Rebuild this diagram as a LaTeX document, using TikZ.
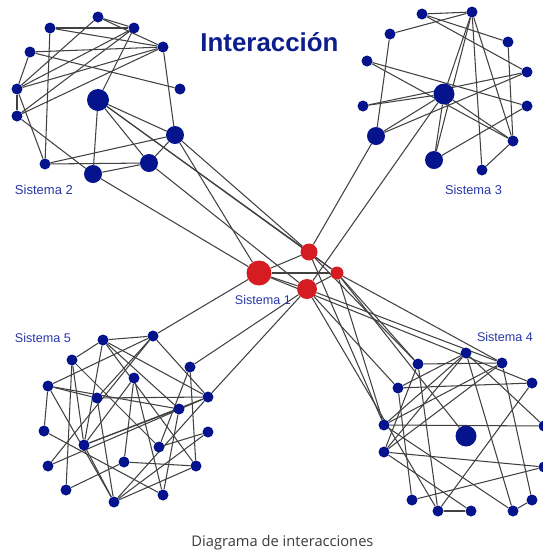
\documentclass[tikz,border=0pt]{standalone}
\usepackage{graphicx}
\usepackage{fontspec}
\setmainfont{Liberation Sans}
\newfontfamily\captionfont{Open Sans}
\usetikzlibrary{backgrounds}

\definecolor{navy}{RGB}{5,20,140}
\definecolor{labelblue}{RGB}{40,55,170}
\definecolor{titleblue}{RGB}{12,30,140}
\definecolor{hubred}{RGB}{213,28,35}
\definecolor{wire}{RGB}{65,65,65}
\definecolor{captiongray}{RGB}{60,60,60}

\tikzset{
  bn/.style={circle, fill=navy, inner sep=0pt, minimum size=#1},
  bn/.default=11pt,
  rn/.style={circle, fill=hubred, inner sep=0pt, minimum size=#1},
  link/.style={draw=wire, line width=1.05pt},
  syslabel/.style={text=labelblue, inner sep=0pt},
}

\begin{document}
\begin{tikzpicture}[x=1pt, y=-1pt]
\useasboundingbox (0,0) rectangle (543,550);
\clip (0,0) rectangle (543,550);

% Sistema 2
\node[bn] (a1) at (98,17) {};
\node[bn] (a2) at (50,28) {};
\node[bn] (a3) at (134,28) {};
\node[bn] (a4) at (163,47) {};
\node[bn] (a5) at (30,52) {};
\node[bn] (a6) at (17,89) {};
\node[bn] (a7) at (180,89) {};
\node[bn=22pt] (a8) at (98,100) {};
\node[bn] (a9) at (17,116) {};
\node[bn=18pt] (a10) at (175,135) {};
\node[bn] (a11) at (45,164) {};
\node[bn=18pt] (a12) at (149,163) {};
\node[bn=18pt] (a13) at (93,174) {};

% Sistema 3
\node[bn] (b1) at (422,14) {};
\node[bn] (b2) at (472,12) {};
\node[bn] (b3) at (390,34) {};
\node[bn] (b4) at (508,42) {};
\node[bn] (b5) at (367,61) {};
\node[bn] (b6) at (527,72) {};
\node[bn=21pt] (b7) at (444,94) {};
\node[bn] (b8) at (363,106) {};
\node[bn] (b9) at (527,106) {};
\node[bn=18pt] (b10) at (376,136) {};
\node[bn] (b11) at (513,141) {};
\node[bn=18pt] (b12) at (434,160) {};
\node[bn] (b13) at (482,170) {};

% Sistema 5
\node[bn] (c1) at (103,340) {};
\node[bn] (c2) at (153,336) {};
\node[bn] (c3) at (72,360) {};
\node[bn] (c4) at (190,367) {};
\node[bn] (c5) at (48,386) {};
\node[bn] (c6) at (134,378) {};
\node[bn] (c7) at (97,398) {};
\node[bn] (c8) at (208,397) {};
\node[bn] (c9) at (179,409) {};
\node[bn] (c10) at (44,431) {};
\node[bn] (c11) at (208,432) {};
\node[bn] (c12) at (84,445) {};
\node[bn] (c13) at (159,447) {};
\node[bn] (c14) at (124,462) {};
\node[bn] (c15) at (48,466) {};
\node[bn] (c16) at (196,466) {};
\node[bn] (c17) at (66,490) {};
\node[bn] (c18) at (163,495) {};
\node[bn] (c19) at (114,502) {};

% Sistema 4
\node[bn] (d1) at (466,353) {};
\node[bn] (d2) at (418,364) {};
\node[bn] (d3) at (502,363) {};
\node[bn] (d4) at (532,383) {};
\node[bn] (d5) at (398,388) {};
\node[bn] (d6) at (384,425) {};
\node[bn=21pt] (d7) at (466,436) {};
\node[bn] (d8) at (544,426) {};
\node[bn] (d9) at (384,452) {};
\node[bn] (d10) at (544,467) {};
\node[bn] (d11) at (412,500) {};
\node[bn] (d12) at (532,500) {};
\node[bn] (d13) at (438,511) {};
\node[bn] (d14) at (471,511) {};
\node[bn] (d15) at (513,511) {};

% Sistema 1
\node[rn=25pt] (r1) at (259,273) {};
\node[rn=17pt] (r2) at (309,252) {};
\node[rn=20pt] (r3) at (307,289) {};
\node[rn=13pt] (r4) at (337,273) {};

\begin{scope}[on background layer]
  % links inside Sistema 2
  \foreach \u/\v in {a1/a3, a1/a4, a1/a6, a2/a3, a2/a4, a2/a11, a3/a6, a3/a9,
                     a3/a8, a4/a5, a4/a6, a4/a9, a4/a10, a5/a6, a5/a7, a6/a11,
                     a9/a13, a8/a13, a11/a10, a11/a12, a13/a12, a12/a10,
                     a8/a10, a8/a12, a6/a9}
    \draw[link] (\u) -- (\v);
  % links inside Sistema 3
  \foreach \u/\v in {b1/b2, b3/b2, b1/b6, b1/b4, b3/b10, b2/b12, b2/b13, b2/b11,
                     b2/b7, b4/b11, b5/b9, b5/b11, b8/b6, b7/b12, b7/b11,
                     b10/b6, b12/b9, b13/b11, b10/b7, b8/b7}
    \draw[link] (\u) -- (\v);
  % links inside Sistema 5
  \foreach \u/\v in {c1/c2, c1/c3, c1/c9, c1/c8, c1/c16, c1/c12, c2/c8, c2/c5,
                     c2/c7, c3/c12, c3/c13, c3/c17, c4/c16, c5/c7, c5/c9,
                     c5/c10, c5/c19, c6/c14, c6/c18, c6/c12, c7/c8, c7/c19,
                     c8/c19, c8/c15, c9/c12, c8/c12, c9/c18, c10/c18, c11/c13,
                     c11/c19, c12/c19, c14/c16, c14/c17, c16/c19, c2/c15,
                     c4/c13}
    \draw[link] (\u) -- (\v);
  % links inside Sistema 4
  \foreach \u/\v in {d2/d3, d1/d5, d1/d6, d1/d9, d1/d15, d3/d6, d3/d9, d3/d12,
                     d5/d4, d5/d11, d6/d8, d6/d15, d9/d10, d4/d13, d11/d10,
                     d12/d15, d13/d14, d2/d9, d2/d13, d1/d8, d9/d14}
    \draw[link] (\u) -- (\v);
  % links inside Sistema 1
  \foreach \u/\v in {r1/r2, r1/r4, r1/r3, r2/r4, r3/r4}
    \draw[link] (\u) -- (\v);
  % links between the systems
  \foreach \u/\v in {a8/r2, a8/r4, a10/r2, a10/r1, a12/r3, a13/r1,
                     b10/r2, b7/r3,
                     r1/c2, r3/c4, r3/c8,
                     r2/d2, r4/d2, r4/d7, r4/d3, r1/d4, r3/d3, r2/d6,
                     r3/d5, r3/d13, r4/d6}
    \draw[link] (\u) -- (\v);
\end{scope}

% labels
\node[text=titleblue, inner sep=0pt] (title) at (269.5,42.5)
  {\resizebox{138pt}{!}{\bfseries Interacción}};
\node[syslabel] (l1) at (263,300) {\resizebox{56pt}{!}{Sistema 1}};
\node[syslabel] (l2) at (44,190) {\resizebox{58pt}{!}{Sistema 2}};
\node[syslabel] (l3) at (473.5,190) {\resizebox{57pt}{!}{Sistema 3}};
\node[syslabel] (l4) at (505,337) {\resizebox{56pt}{!}{Sistema 4}};
\node[syslabel] (l5) at (43,338) {\resizebox{56pt}{!}{Sistema 5}};
\node[text=captiongray, inner sep=0pt, anchor=base] (cap) at (282.5,546)
  {\resizebox{182pt}{!}{\captionfont Diagrama de interacciones}};
\end{tikzpicture}
\end{document}
